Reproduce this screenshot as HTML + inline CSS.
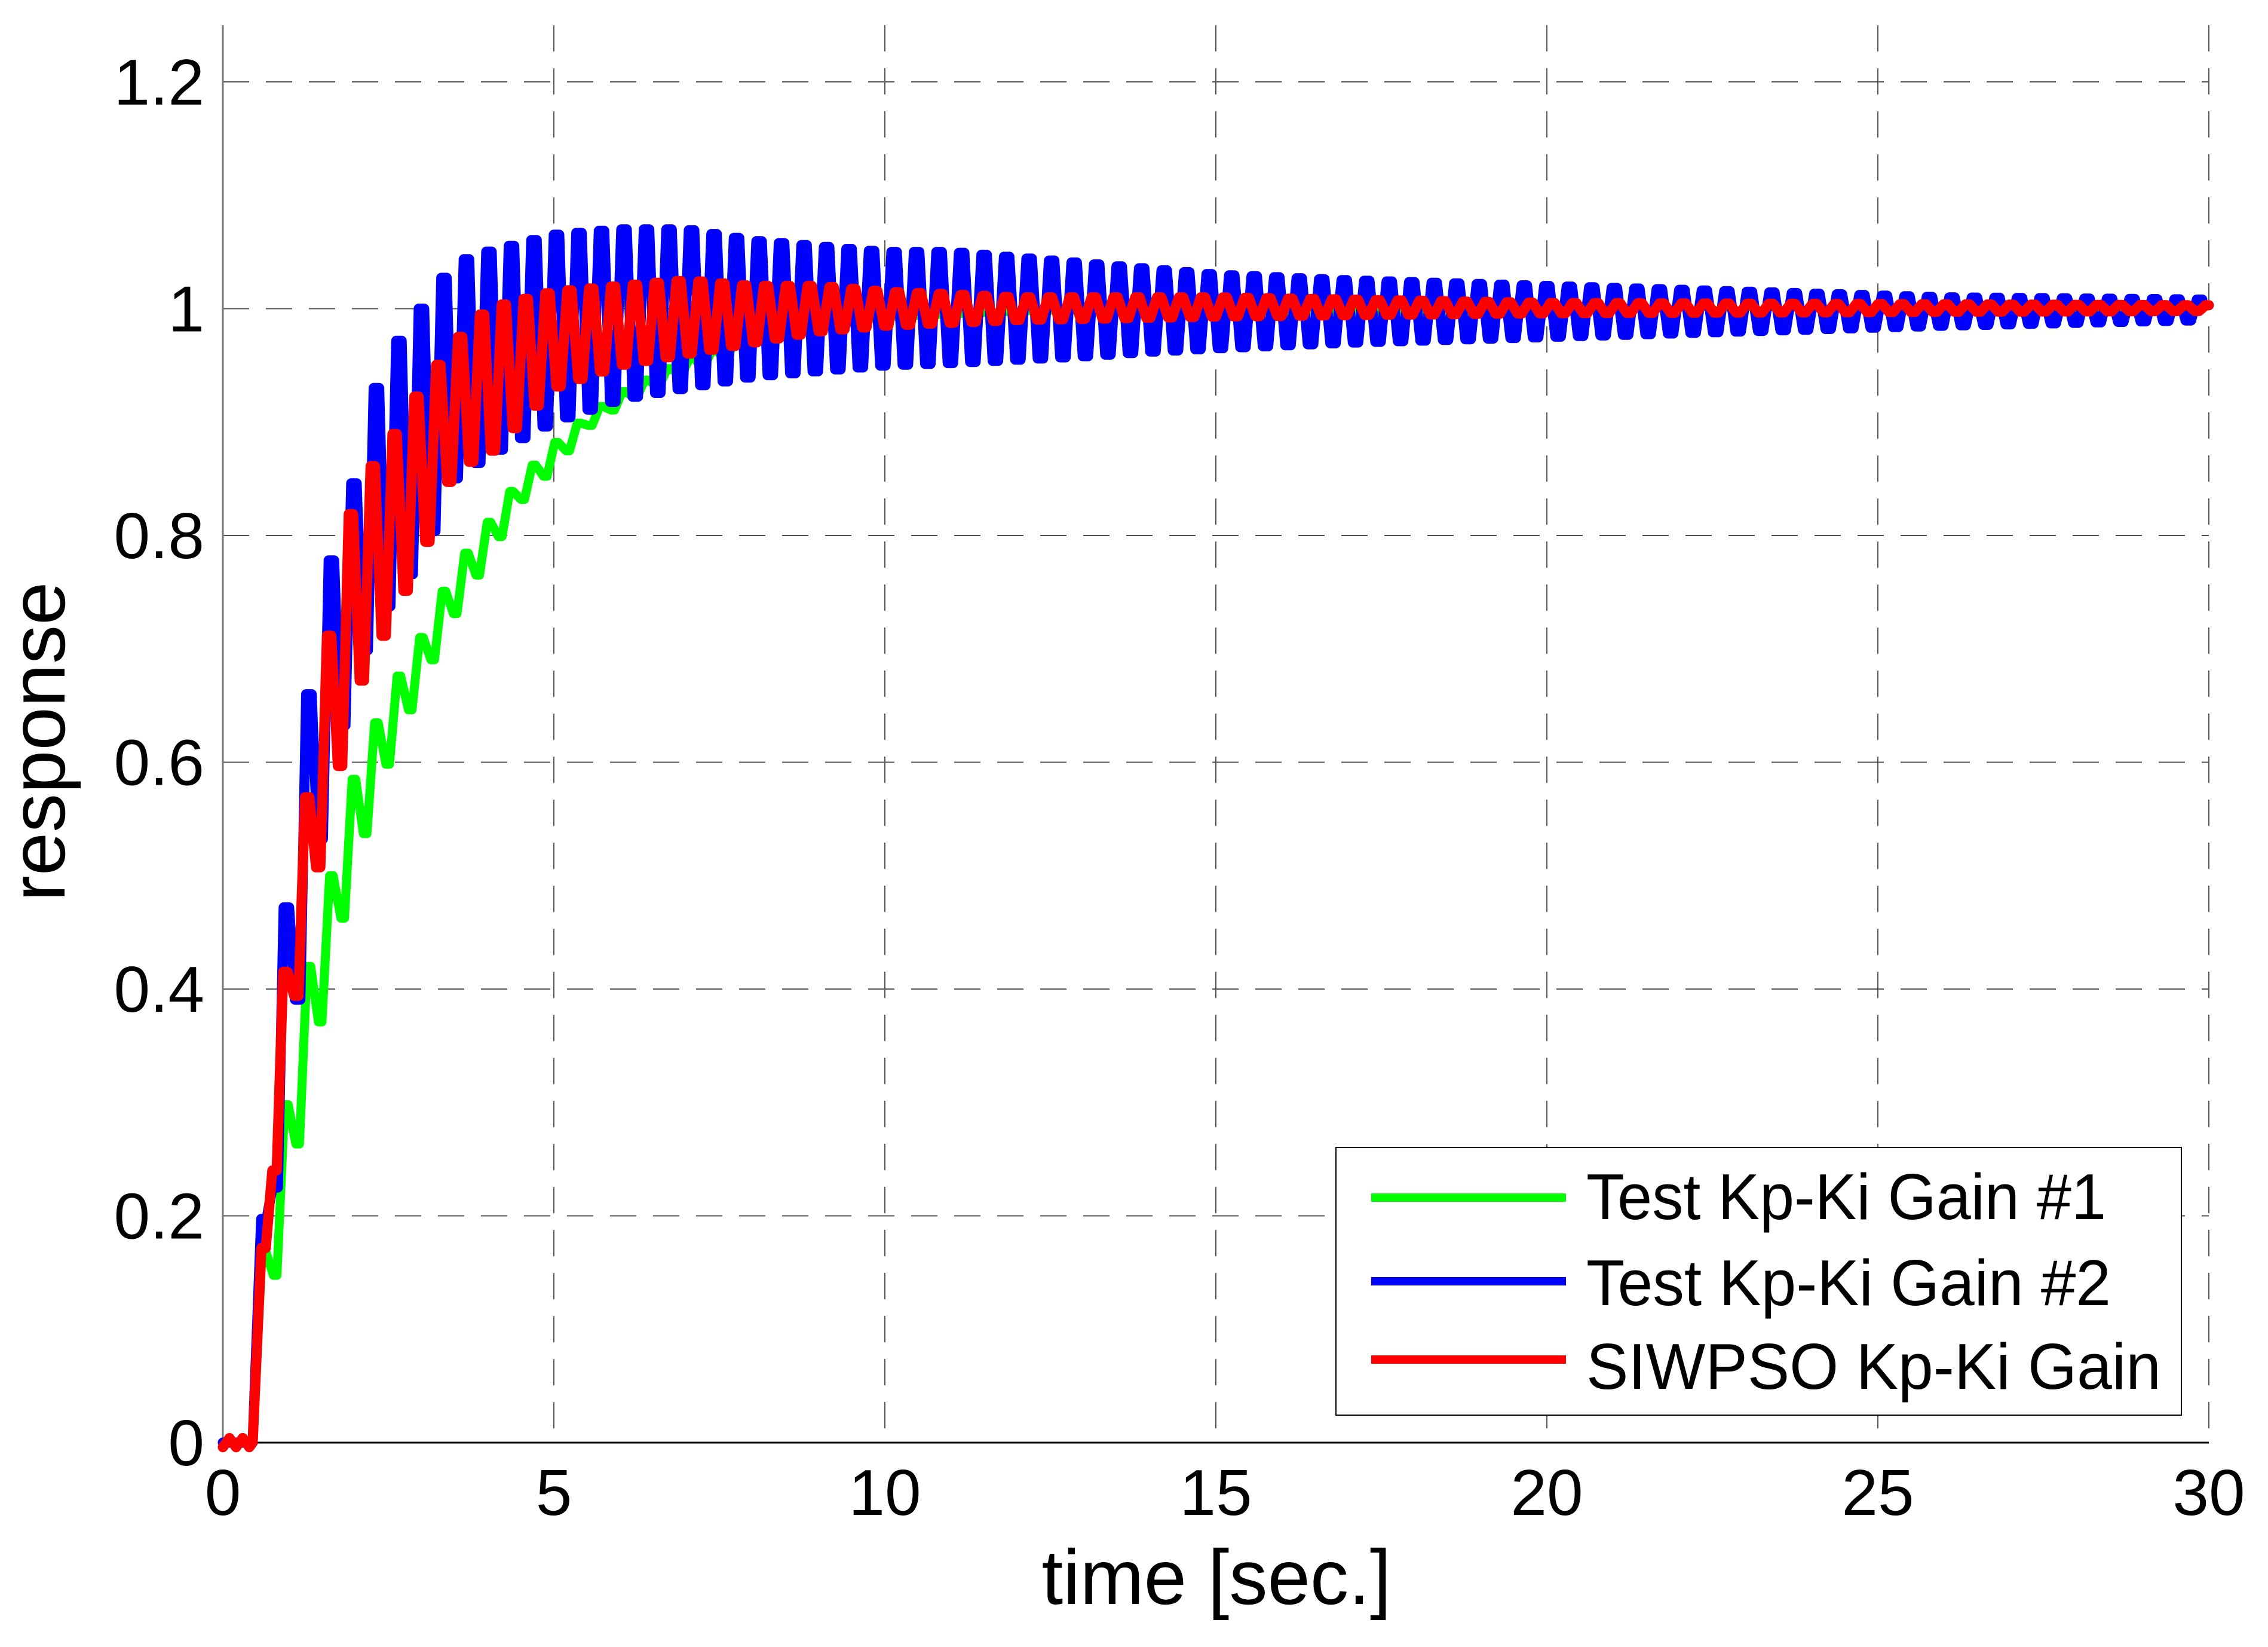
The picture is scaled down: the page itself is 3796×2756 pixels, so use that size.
<!DOCTYPE html>
<html><head><meta charset="utf-8"><style>
html,body{margin:0;padding:0;background:#fff;}
svg{display:block;}
text{font-family:"Liberation Sans",Arial,sans-serif;fill:#000;}
</style></head><body>
<svg id="chart" width="3796" height="2756" viewBox="0 0 3796 2756" xmlns="http://www.w3.org/2000/svg">
<rect x="0" y="0" width="3796" height="2756" fill="#fff"/>
<g id="grid"></g>
<g id="axes"></g>
<g id="series"></g>
<g id="legend">
  <rect x="2236" y="1920" width="1415" height="448" fill="#fff" stroke="#000" stroke-width="2"/>
  <line x1="2295" y1="2004" x2="2621" y2="2004" stroke="#00ff00" stroke-width="14"/>
  <text x="2655" y="2040" font-size="109" textLength="870" lengthAdjust="spacingAndGlyphs">Test Kp-Ki Gain #1</text>
  <line x1="2295" y1="2144" x2="2621" y2="2144" stroke="#0000ff" stroke-width="14"/>
  <text x="2655" y="2184" font-size="109" textLength="878" lengthAdjust="spacingAndGlyphs">Test Kp-Ki Gain #2</text>
  <line x1="2295" y1="2275" x2="2621" y2="2275" stroke="#ff0000" stroke-width="14"/>
  <text x="2655" y="2324" font-size="109" textLength="962" lengthAdjust="spacingAndGlyphs">SIWPSO Kp-Ki Gain</text>
</g>
<text x="2036" y="2684" font-size="130" text-anchor="middle" textLength="585" lengthAdjust="spacingAndGlyphs">time [sec.]</text>
<text x="0" y="0" font-size="130" text-anchor="middle" transform="translate(108,1241) rotate(-90)">response</text>
</svg>
<script>
const xTicks = [0, 5, 10, 15, 20, 25, 30];
const yTicks = [0, 0.2, 0.4, 0.6, 0.8, 1, 1.2];
const yTickLabels = ["0", "0.2", "0.4", "0.6", "0.8", "1", "1.2"];

const greenT  = [0.45, 0.6, 0.8, 1.0, 1.3, 1.6, 2.0, 2.5, 3.0, 3.5, 4.0, 4.5, 5.0, 5.5, 6.0, 7.0, 8.0, 9.0, 10, 12, 15, 30];
const greenHi = [0.02, 0.16, 0.25, 0.31, 0.42, 0.49, 0.59, 0.66, 0.71, 0.77, 0.81, 0.85, 0.88, 0.905, 0.925, 0.955, 0.975, 0.985, 0.993, 0.998, 1.002, 1.002];
const greenLo = [0.0, 0.10, 0.15, 0.22, 0.32, 0.41, 0.51, 0.60, 0.67, 0.73, 0.78, 0.83, 0.86, 0.895, 0.915, 0.945, 0.965, 0.978, 0.988, 0.994, 0.998, 0.998];

const blueT  = [0.45, 0.7, 1.0, 1.3, 1.6, 2.0, 2.4, 3.0, 3.5, 4.0, 5.0, 6.0, 7.0, 8.0, 9.0, 10, 11, 12, 13, 14, 15, 17, 20, 23, 26, 30];
const blueHi = [0.0, 0.29, 0.50, 0.66, 0.77, 0.85, 0.95, 1.00, 1.04, 1.05, 1.065, 1.07, 1.07, 1.06, 1.055, 1.05, 1.05, 1.045, 1.04, 1.035, 1.03, 1.025, 1.02, 1.015, 1.01, 1.008];
const blueLo = [0.0, 0.18, 0.33, 0.47, 0.58, 0.68, 0.73, 0.78, 0.85, 0.87, 0.90, 0.92, 0.93, 0.94, 0.945, 0.95, 0.952, 0.955, 0.958, 0.962, 0.965, 0.97, 0.975, 0.98, 0.985, 0.99];

const redT  = [0.45, 0.7, 1.0, 1.3, 1.6, 2.0, 2.5, 3.0, 3.5, 4.0, 5.0, 6.0, 7.0, 8.0, 9.0, 10, 12, 15, 20, 30];
const redHi = [0.0, 0.26, 0.45, 0.58, 0.71, 0.84, 0.88, 0.93, 0.97, 1.00, 1.015, 1.02, 1.025, 1.02, 1.02, 1.015, 1.01, 1.01, 1.005, 1.003];
const redLo = [0.0, 0.20, 0.35, 0.47, 0.55, 0.66, 0.72, 0.78, 0.86, 0.87, 0.93, 0.95, 0.96, 0.97, 0.98, 0.985, 0.99, 0.993, 0.996, 0.998];

const X0 = 373, X1 = 3697, XMAX = 30;
const Y0 = 2414, YPER = 1897.5, YMAX = 1.25;
const PTOP = Y0 - YMAX * YPER;
function xs(t){ return X0 + (X1 - X0) * t / XMAX; }
function ys(v){ return Y0 - v * YPER; }
const NS = "http://www.w3.org/2000/svg";
function mk(tag, attrs){ const e = document.createElementNS(NS, tag); for (const k in attrs) e.setAttribute(k, attrs[k]); return e; }

const grid = document.getElementById('grid');
const axes = document.getElementById('axes');
xTicks.forEach((t, i) => {
  if (t > 0) {
    const g = mk('line', {x1: xs(t), y1: PTOP, x2: xs(t), y2: Y0, stroke: '#555', 'stroke-width': 2, 'stroke-dasharray': '44 28'});
    
    
    grid.appendChild(g);
  }
  const lb = mk('text', {x: xs(t), y: 2535, 'font-size': 109, 'text-anchor': 'middle'});
  lb.textContent = String(t);
  
  
  axes.appendChild(lb);
});
yTicks.forEach((v, i) => {
  if (v > 0) {
    const g = mk('line', {x1: X0, y1: ys(v), x2: X1, y2: ys(v), stroke: '#555', 'stroke-width': 2, 'stroke-dasharray': '44 28'});
    
    
    grid.appendChild(g);
  }
  const lb = mk('text', {x: 342, y: ys(v) + 38, 'font-size': 109, 'text-anchor': 'end'});
  lb.textContent = yTickLabels[i];
  
  
  axes.appendChild(lb);
});
const yAx = mk('line', {x1: X0, y1: PTOP, x2: X0, y2: Y0, stroke: '#777', 'stroke-width': 3});


axes.appendChild(yAx);
const xAx = mk('line', {x1: X0, y1: Y0, x2: X1, y2: Y0, stroke: '#000', 'stroke-width': 3});


axes.appendChild(xAx);

function env(T, V, t){
  if (t <= T[0]) return V[0];
  for (let i = 1; i < T.length; i++) if (t <= T[i]) { const f = (t - T[i-1]) / (T[i] - T[i-1]); return V[i-1] + f * (V[i] - V[i-1]); }
  return V[V.length - 1];
}
function buildPath(T, Hi, Lo, period, preWiggle, hold){
  const pts = [];
  if (preWiggle) {
    for (let t = 0; t < T[0]; t += 0.1) pts.push([t, (Math.round(t * 10) % 2) ? 0.004 : -0.004]);
  } else pts.push([0, 0]);
  pts.push([T[0], 0]);
  let k = 0;
  const h = period * hold;
  for (let t = T[0] + period / 2; t <= XMAX; t += period / 2, k++) {
    const v = (k % 2 === 0) ? env(T, Hi, t) : env(T, Lo, t);
    pts.push([t - h, v]);
    pts.push([Math.min(t + h, XMAX), v]);
  }
  return pts.map((p, i) => (i ? 'L' : 'M') + xs(p[0]).toFixed(1) + ' ' + ys(p[1]).toFixed(1)).join(' ');
}
const series = document.getElementById('series');
const g1 = mk('path', {d: buildPath(greenT, greenHi, greenLo, 0.34, false, 0.08), fill: 'none', stroke: '#00ff00', 'stroke-width': 15, 'stroke-linejoin': 'round', 'stroke-linecap': 'round'});


series.appendChild(g1);
const b1 = mk('path', {d: buildPath(blueT, blueHi, blueLo, 0.34, false, 0.12), fill: 'none', stroke: '#0000ff', 'stroke-width': 17, 'stroke-linejoin': 'round', 'stroke-linecap': 'round'});


series.appendChild(b1);
const r1 = mk('path', {d: buildPath(redT, redHi, redLo, 0.33, true, 0.1), fill: 'none', stroke: '#ff0000', 'stroke-width': 17, 'stroke-linejoin': 'round', 'stroke-linecap': 'round'});


series.appendChild(r1);
</script>
</body></html>
